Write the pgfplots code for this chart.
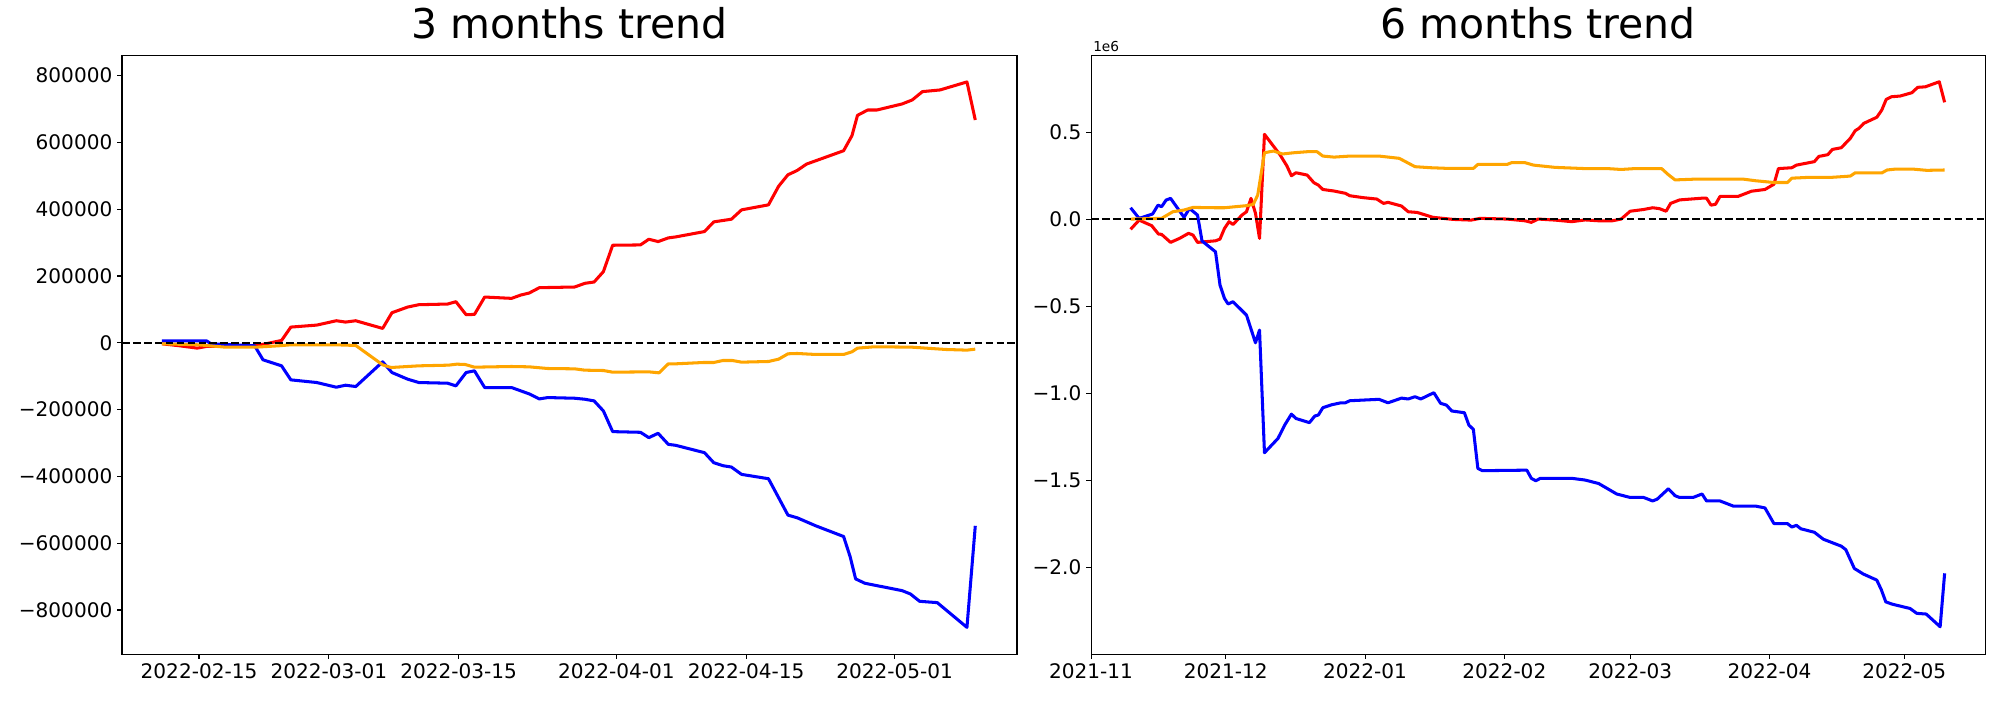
\documentclass[border=0pt]{standalone}
\usepackage{fontspec}
\setmainfont{DejaVu Sans}
\usepackage{pgfplots}
\pgfplotsset{compat=1.18}
\definecolor{mplorange}{HTML}{FFA500}
\definecolor{mplred}{HTML}{FF0000}
\definecolor{mplblue}{HTML}{0000FF}

\pgfplotstableread{
x y
-4.0 -3000
-2.1 -9000
-0.2 -16000
0.8 -11000
3.0 -11000
6.2 -8000
7.2 -3000
8.9 7000
9.9 47000
12.7 53000
14.8 66000
15.8 62000
16.9 66000
19.8 43000
20.8 90000
22.5 107000
23.7 114000
26.8 116000
27.7 123000
28.8 84000
29.7 85000
30.8 137000
33.7 133000
34.7 143000
35.6 149000
36.7 165000
40.5 167000
41.6 178000
42.6 182000
43.6 213000
44.6 292000
47.6 293000
48.5 310000
49.5 303000
50.6 314000
51.4 317000
54.5 333000
55.5 362000
57.4 370000
58.5 398000
61.4 413000
62.5 469000
63.5 503000
64.5 516000
65.5 535000
66.5 545000
69.5 575000
70.4 620000
71.0 681000
72.1 697000
73.1 697000
75.8 715000
76.9 727000
78.0 752000
79.9 757000
82.8 781000
83.7 667000
}\leftred

\pgfplotstableread{
x y
-4.0 -3000
-0.1 -6000
2.8 -13000
6.2 -13000
8.6 -9000
9.9 -6000
14.7 -6000
16.9 -8000
19.8 -66000
20.7 -74000
23.7 -69000
26.9 -67000
27.8 -64000
28.7 -65000
29.7 -73000
33.7 -71000
35.6 -72000
37.6 -77000
40.5 -78000
41.6 -82000
43.6 -83000
44.6 -88000
48.5 -87000
49.6 -90000
50.6 -63000
51.4 -63000
54.4 -59000
55.5 -59000
56.5 -53000
57.5 -53000
58.5 -58000
61.4 -56000
62.5 -49000
63.5 -33000
64.5 -32000
66.5 -35000
69.5 -35000
70.4 -27000
71.0 -16000
72.8 -12000
76.8 -13000
80.5 -20000
82.8 -22000
83.7 -19000
}\leftorange

\pgfplotstableread{
x y
-4.0 6000
0.8 6000
1.3 -3000
3.5 -6000
6.0 -9000
6.9 -51000
8.9 -69000
9.9 -111000
12.7 -119000
14.8 -133000
15.8 -127000
16.9 -131000
19.8 -57000
20.8 -89000
22.5 -109000
23.7 -119000
26.8 -121000
27.7 -129000
28.8 -89000
29.7 -84000
30.8 -134000
33.7 -134000
34.7 -144000
35.6 -153000
36.7 -168000
37.6 -164000
40.5 -166000
41.6 -169000
42.6 -174000
43.6 -204000
44.6 -266000
47.6 -268000
48.5 -284000
49.5 -271000
50.6 -304000
51.4 -307000
54.5 -329000
55.5 -359000
56.5 -368000
57.4 -372000
58.5 -394000
61.4 -407000
62.5 -464000
63.5 -516000
64.5 -524000
66.5 -548000
69.5 -580000
70.2 -640000
70.8 -707000
71.8 -720000
75.8 -742000
76.7 -752000
77.7 -774000
79.6 -778000
82.8 -852000
83.7 -548000
}\leftblue

\pgfplotstableread{
x y
8.8 0.065
10.7 0.004
13.7 0.029
14.9 0.080
15.7 0.071
16.7 0.109
17.7 0.119
20.7 0.010
21.9 0.061
23.7 0.023
24.7 -0.126
27.7 -0.188
28.7 -0.379
29.7 -0.456
30.5 -0.488
31.6 -0.475
34.6 -0.552
36.6 -0.711
37.5 -0.638
38.6 -1.343
41.6 -1.261
43.1 -1.184
44.6 -1.121
45.6 -1.146
48.6 -1.170
49.8 -1.132
50.6 -1.126
51.6 -1.084
53.6 -1.067
55.6 -1.056
56.6 -1.056
57.6 -1.044
64.1 -1.036
66.1 -1.056
69.1 -1.029
70.6 -1.034
72.1 -1.021
73.4 -1.034
76.3 -0.998
77.8 -1.059
79.1 -1.069
80.3 -1.103
83.1 -1.113
84.1 -1.184
85.1 -1.209
86.1 -1.433
87.1 -1.446
97.0 -1.443
98.0 -1.490
99.0 -1.504
100.0 -1.490
103.3 -1.490
107 -1.49
110 -1.50
113 -1.52
115 -1.55
117 -1.58
120 -1.60
123 -1.60
125 -1.62
126 -1.61
128.5 -1.55
130 -1.59
131 -1.60
134 -1.60
136 -1.58
137 -1.62
140 -1.62
143 -1.65
148 -1.65
150 -1.66
152 -1.75
155 -1.75
156 -1.77
157 -1.76
158 -1.78
161 -1.80
163 -1.84
165 -1.86
167 -1.88
168 -1.90
169.9 -2.008
171.9 -2.040
174.9 -2.075
175.9 -2.130
176.9 -2.200
178.3 -2.213
182.3 -2.238
183.8 -2.266
185.9 -2.270
189.0 -2.343
190.0 -2.036
}\rightblue

\pgfplotstableread{
x y
8.8 -0.059
10.7 -0.006
13.5 -0.038
15.0 -0.086
15.7 -0.088
17.7 -0.134
19.7 -0.111
21.7 -0.082
22.7 -0.092
23.7 -0.134
27.7 -0.125
28.7 -0.115
29.7 -0.054
30.7 -0.015
31.6 -0.031
33.6 0.023
34.6 0.042
35.6 0.119
36.6 0.033
37.5 -0.111
38.6 0.487
42.1 0.368
43.6 0.305
44.6 0.249
45.6 0.266
48.1 0.253
49.6 0.209
50.6 0.195
51.6 0.170
54.1 0.161
56.6 0.148
57.6 0.134
60.6 0.123
63.6 0.115
65.1 0.090
66.1 0.096
69.1 0.075
70.6 0.042
72.6 0.038
76.1 0.010
80.6 -0.002
84.6 -0.006
86.6 0.004
92.6 0.000
96.6 -0.010
98.0 -0.019
99.5 0.000
103.3 -0.006
107 -0.015
110 -0.005
113 -0.010
116 -0.010
118 0.000
120 0.045
123 0.055
125 0.065
126.5 0.060
128 0.045
129 0.090
131 0.110
136 0.120
137 0.120
138 0.080
139 0.085
140 0.130
144 0.130
147 0.160
150 0.170
152 0.200
153 0.290
156 0.295
157 0.310
159 0.320
161 0.330
162 0.360
164 0.370
165 0.400
167 0.410
169 0.464
170.1 0.508
170.9 0.521
172.0 0.550
174.9 0.585
176.0 0.626
177.0 0.688
178.2 0.703
180.1 0.707
182.7 0.726
184.0 0.757
185.7 0.760
188.8 0.789
190.0 0.671
}\rightred

\pgfplotstableread{
x y
8.8 0.000
15.7 0.004
18.2 0.042
20.7 0.052
22.7 0.067
27.7 0.065
29.7 0.065
34.6 0.077
36.1 0.084
37.1 0.138
38.6 0.381
40.6 0.391
42.6 0.374
45.1 0.381
48.1 0.387
50.3 0.387
51.6 0.362
54.1 0.356
57.6 0.362
64.1 0.362
68.6 0.349
72.1 0.301
75.6 0.295
79.6 0.291
85.1 0.291
86.1 0.314
92.6 0.314
93.6 0.324
96.6 0.324
98.5 0.310
103.3 0.297
110 0.290
115 0.290
118 0.285
121 0.290
127 0.290
128.5 0.255
130 0.225
135 0.230
145 0.230
148 0.220
152 0.210
155 0.210
156 0.235
160 0.240
165 0.240
169 0.247
170.1 0.266
176 0.265
177.2 0.282
179 0.287
183 0.287
186 0.280
190 0.282
}\rightorange

\pgfplotsset{
  mystyle/.style={
    scale only axis,
    height=432.9pt,
    axis line style={line width=0.8pt, black},
    tick align=outside,
    xtick pos=lower, ytick pos=left,
    major tick length=3.5pt,
    minor tick num=0,
    scaled ticks=false,
    every tick/.style={black, line width=0.8pt},
    tick label style={font=\fontsize{14.5}{17}\selectfont},
    title style={font=\fontsize{29.6}{35}\selectfont, at={(0.5,1)}, anchor=base, yshift=6pt},
    every axis plot/.append style={line width=2.2pt, line join=round},
  },
  zeroline/.style={black, line width=1.6pt, dash pattern=on 5.5pt off 2.4pt, line join=miter},
}

\begin{document}
\begin{tikzpicture}
\path[use as bounding box] (0,0) rectangle (1445.4pt,505.9pt);

\begin{axis}[mystyle,
  at={(88.2pt,33.2pt)}, anchor=south west, width=646.8pt,
  xmin=-8.3, xmax=88.2, ymin=-932000, ymax=861400,
  xtick={0,14,28,45,59,75},
  xticklabels={2022-02-15,2022-03-01,2022-03-15,2022-04-01,2022-04-15,2022-05-01},
  ytick={-800000,-600000,-400000,-200000,0,200000,400000,600000,800000},
  yticklabels={−800000,−600000,−400000,−200000,0,200000,400000,600000,800000},
  title={3 months trend}]
\addplot[mplred, mark=none] table {\leftred};
\addplot[mplblue, mark=none] table {\leftblue};
\addplot[mplorange, mark=none] table {\leftorange};
\addplot[zeroline, mark=none] coordinates {(-8.3,0) (88.2,0)};
\end{axis}

\begin{axis}[mystyle, name=R,
  at={(788.5pt,33.2pt)}, anchor=south west, width=646.1pt,
  xmin=0, xmax=199, ymin=-2.5, ymax=0.9425,
  xtick={0,30,61,92,120,151,181},
  xticklabels={2021-11,2021-12,2022-01,2022-02,2022-03,2022-04,2022-05},
  ytick={-2,-1.5,-1,-0.5,0,0.5},
  yticklabels={−2.0,−1.5,−1.0,−0.5,0.0,0.5},
  title={6 months trend}]
\addplot[mplred, mark=none] table {\rightred};
\addplot[mplblue, mark=none] table {\rightblue};
\addplot[mplorange, mark=none] table {\rightorange};
\addplot[zeroline, mark=none] coordinates {(0,0) (199,0)};
\end{axis}
\node[anchor=base west, inner sep=0pt, font=\fontsize{9.9}{12}\selectfont] at ([xshift=1.4pt,yshift=2.7pt]R.north west) {1e6};
\end{tikzpicture}
\end{document}
